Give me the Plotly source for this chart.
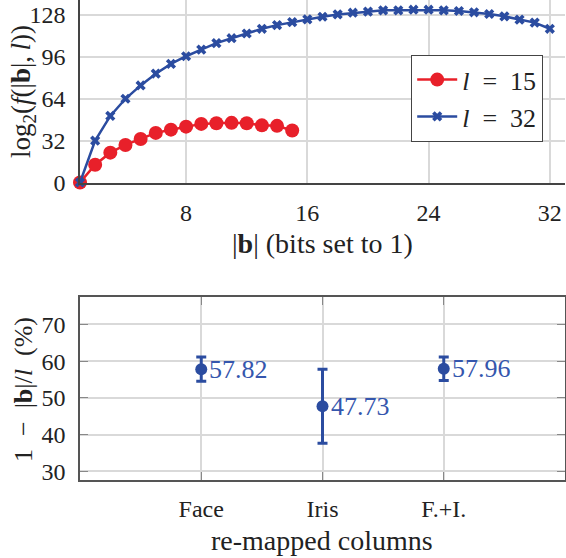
import plotly.graph_objects as go

# ---- data: top chart ----
b_15 = list(range(1, 16))
f_15 = [0, 13.6, 22.8, 28.7, 33.3, 37.9, 40.4, 42.7, 44.8, 45.3, 45.6, 45.3, 43.7, 43.3, 39.7]
b_32 = list(range(1, 33))
f_32 = [0, 32.0, 50.9, 64.0, 74.2, 83.2, 90.7, 96.5, 101.6, 106.5, 110.3, 113.9, 117.5, 120.3,
        122.6, 124.7, 126.7, 128.5, 129.8, 130.6, 131.6, 131.6, 132.1, 132.1, 131.6, 131.1,
        130.1, 128.8, 127.0, 124.5, 122.2, 117.5]
top_xticks = [8, 16, 24, 32]
top_yticks = [0, 32, 64, 96, 128]

# ---- data: bottom chart ----
columns = ["Face", "Iris", "F.+I."]
col_pos = [1, 2, 3]
means = [57.82, 47.73, 57.96]
errs = [3.3, 10.1, 3.2]
bot_yticks = [30, 40, 50, 60, 70]

RED = "#e8202a"
BLUE = "#2b4ca0"
TXTBLUE = "#3556ad"
GRID = "#d9d9d9"
AX = "#444444"
FONT = "Liberation Serif"
FS = 24
FT = 26

W, H = 566, 558
ML, MR, MT, MB = 80, 1, 0, 78
PW = W - ML - MR
PH = H - MT - MB


def px_x(p):
    return (p - ML) / PW


def px_y(p):
    return 1 - (p - MT) / PH


fig = go.Figure()

fig.add_trace(go.Scatter(
    x=b_15, y=f_15, mode="lines+markers", name="<i>l</i>\u2002=\u200215",
    line=dict(color=RED, width=2.5),
    marker=dict(symbol="circle", size=14, color=RED),
    cliponaxis=False, xaxis="x", yaxis="y"))
fig.add_trace(go.Scatter(
    x=b_32, y=f_32, mode="lines+markers", name="<i>l</i>\u2002=\u200232",
    line=dict(color=BLUE, width=2.5),
    marker=dict(symbol="x", size=9, color=BLUE),
    cliponaxis=False, xaxis="x", yaxis="y"))

fig.add_trace(go.Scatter(
    x=col_pos, y=means, mode="markers", showlegend=False,
    marker=dict(symbol="circle", size=12, color=BLUE),
    error_y=dict(type="data", array=errs, visible=True, color=BLUE, thickness=3, width=5),
    xaxis="x2", yaxis="y2"))

for xp, m in zip(col_pos, means):
    fig.add_annotation(x=xp, y=m, xref="x2", yref="y2", text=f"{m:.2f}",
                       showarrow=False, xanchor="left", yanchor="middle", xshift=6,
                       font=dict(family=FONT, size=FT, color=TXTBLUE))

top_dom = [px_y(182.5), 1]
bot_dom = [0, px_y(297.3)]

fig.update_layout(
    template="none",
    width=W, height=H,
    margin=dict(l=ML, r=MR, t=MT, b=MB, autoexpand=False),
    paper_bgcolor="white", plot_bgcolor="white",
    font=dict(family=FONT, size=FS, color="#222222"),
    xaxis=dict(domain=[0, 1], range=[1, 33], tickvals=top_xticks, automargin=False,
               showgrid=True, gridcolor=GRID, gridwidth=1.5, zeroline=False,
               showline=True, linecolor=AX, linewidth=1.5, ticks="",
               ticklabelstandoff=8, anchor="y"),
    yaxis=dict(domain=top_dom, range=[0, 139.5], tickvals=top_yticks, automargin=False,
               showgrid=True, gridcolor=GRID, gridwidth=1.5, zeroline=False,
               showline=True, linecolor=AX, linewidth=1.5, ticks="",
               ticklabelstandoff=8, anchor="x"),
    xaxis2=dict(domain=[0, 1], range=[0, 4], tickvals=col_pos, ticktext=columns,
                automargin=False,
                showgrid=True, gridcolor=GRID, gridwidth=1.5, zeroline=False,
                showline=True, linecolor="#555555", linewidth=1.5, mirror="allticks",
                ticks="inside", ticklen=8, tickcolor="#888888",
                ticklabelstandoff=6, anchor="y2"),
    yaxis2=dict(domain=bot_dom, range=[27.65, 77.4], tickvals=bot_yticks, automargin=False,
                showgrid=True, gridcolor=GRID, gridwidth=1.5, zeroline=False,
                showline=True, linecolor="#555555", linewidth=1.5, mirror="allticks",
                ticks="inside", ticklen=8, tickcolor="#888888",
                ticklabelstandoff=8, anchor="x2"),
    legend=dict(x=px_x(411), y=px_y(55), xanchor="left", yanchor="top",
                bgcolor="white", bordercolor="#444444", borderwidth=1.2,
                font=dict(family=FONT, size=FT, color="#222222"),
                itemwidth=40, tracegroupgap=0),
    showlegend=True,
)

# axis titles as annotations
fig.add_annotation(x=px_x(322), y=px_y(243), xref="paper", yref="paper",
                   text="|<b>b</b>| (bits set to 1)", showarrow=False,
                   xanchor="center", yanchor="middle",
                   font=dict(family=FONT, size=28, color="#222222"))
fig.add_annotation(x=px_x(23), y=px_y(92), xref="paper", yref="paper",
                   text="log<sub>2</sub>(<i>f</i>(|<b>b</b>|,\u2009<i>l</i>))", showarrow=False,
                   textangle=-90, xanchor="center", yanchor="middle",
                   font=dict(family=FONT, size=27, color="#222222"))
fig.add_annotation(x=px_x(23), y=px_y(390), xref="paper", yref="paper",
                   text="1\u2002−\u2002|<b>b</b>|/<i>l</i>\u2002(%)", showarrow=False,
                   textangle=-90, xanchor="center", yanchor="middle",
                   font=dict(family=FONT, size=FT, color="#222222"))
fig.add_annotation(x=px_x(322), y=px_y(540), xref="paper", yref="paper",
                   text="re-mapped columns", showarrow=False,
                   xanchor="center", yanchor="middle",
                   font=dict(family=FONT, size=28, color="#222222"))

fig.write_html("out.html", config={"displayModeBar": False},
               post_script="document.body.style.margin='0';document.body.style.overflow='hidden';")
